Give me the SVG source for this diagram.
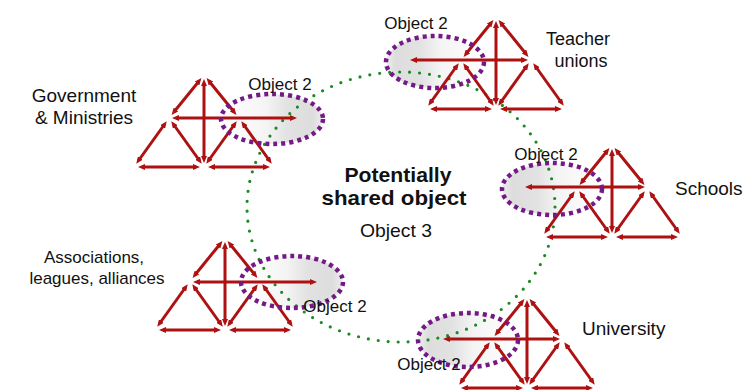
<svg xmlns="http://www.w3.org/2000/svg" xmlns:xlink="http://www.w3.org/1999/xlink" width="746" height="390" viewBox="0 0 746 390">
  <style>
    .lbl { font-family: "Liberation Sans", Arial, sans-serif; fill: #111; }
    .obj { font-family: "Liberation Sans", Arial, sans-serif; fill: #111; font-size: 17px; text-anchor: middle; }
    .edge { stroke: #ad1111; stroke-width: 3; fill: none; marker-start: url(#head); marker-end: url(#head); }
    .ring { stroke: #741a86; stroke-width: 4.5; stroke-dasharray: 4 4; fill: none; }
    .shared { stroke: #1b8a23; stroke-width: 3.2; stroke-dasharray: 0 10; stroke-linecap: round; fill: none; }
  </style>
  <defs>
    <marker id="head" viewBox="0 0 7 6" refX="3" refY="3" markerWidth="7" markerHeight="6" markerUnits="userSpaceOnUse" orient="auto-start-reverse">
      <path d="M0,0 L7,3 L0,6 z" fill="#ad1111"/>
    </marker>
    <linearGradient id="fadeR" x1="0" y1="0" x2="1" y2="0">
      <stop offset="0" stop-color="#ffffff"/>
      <stop offset="0.45" stop-color="#f4f4f4"/>
      <stop offset="0.65" stop-color="#e2e2e2"/>
      <stop offset="0.9" stop-color="#dddddd"/>
      <stop offset="1" stop-color="#eeeeee"/>
    </linearGradient>
    <linearGradient id="fadeL" x1="1" y1="0" x2="0" y2="0">
      <stop offset="0" stop-color="#ffffff"/>
      <stop offset="0.45" stop-color="#f4f4f4"/>
      <stop offset="0.65" stop-color="#e2e2e2"/>
      <stop offset="0.9" stop-color="#dddddd"/>
      <stop offset="1" stop-color="#eeeeee"/>
    </linearGradient>
    <!-- activity system triangle, apex at origin -->
    <g id="tri">
      <line class="edge" x1="-5.1" y1="6.2" x2="-29.9" y2="36.8"/>
      <line class="edge" x1="5.1" y1="6.2" x2="29.9" y2="36.8"/>
      <line class="edge" x1="-39.6" y1="49.5" x2="-65.4" y2="85.5"/>
      <line class="edge" x1="-30.4" y1="49.5" x2="-4.6" y2="85.5"/>
      <line class="edge" x1="30.4" y1="49.5" x2="4.6" y2="85.5"/>
      <line class="edge" x1="39.6" y1="49.5" x2="65.4" y2="85.5"/>
      <line class="edge" x1="-62" y1="92" x2="-8" y2="92"/>
      <line class="edge" x1="8" y1="92" x2="62" y2="92"/>
      <line class="edge" x1="0" y1="8" x2="0" y2="84"/>
    </g>
  </defs>

  <rect width="746" height="390" fill="#ffffff"/>

  <!-- object shadings -->
  <g id="object-fills">
    <ellipse cx="272" cy="119" rx="51" ry="25" fill="url(#fadeR)"/>
    <ellipse cx="435" cy="62" rx="49" ry="26" fill="url(#fadeL)"/>
    <ellipse cx="552" cy="189" rx="50" ry="26" fill="url(#fadeL)"/>
    <ellipse cx="292" cy="282" rx="51" ry="26" fill="url(#fadeR)"/>
    <ellipse cx="468" cy="340" rx="50" ry="27" fill="url(#fadeL)"/>
  </g>

  <!-- potentially shared object -->
  <g id="shared-object">
    <ellipse class="shared" cx="401" cy="207" rx="154" ry="135"/>
    <text class="lbl" x="398" y="182" font-size="21" font-weight="bold" text-anchor="middle" textLength="107" lengthAdjust="spacingAndGlyphs">Potentially</text>
    <text class="lbl" x="394" y="205" font-size="21" font-weight="bold" text-anchor="middle" textLength="145" lengthAdjust="spacingAndGlyphs">shared object</text>
    <text class="lbl" x="396" y="237" font-size="19" text-anchor="middle" textLength="72" lengthAdjust="spacingAndGlyphs">Object 3</text>
  </g>

  <!-- Government & Ministries -->
  <g id="government">
    <use xlink:href="#tri" transform="translate(204,75)"/>
    <line class="edge" x1="176" y1="118" x2="293" y2="118"/>
    <ellipse class="ring" cx="272" cy="119" rx="51" ry="25"/>
    <text class="obj" x="280" y="90">Object 2</text>
    <text class="lbl" x="84" y="102" font-size="19" text-anchor="middle">Government</text>
    <text class="lbl" x="84" y="124" font-size="19" text-anchor="middle">&amp; Ministries</text>
  </g>

  <!-- Teacher unions -->
  <g id="teacher-unions">
    <use xlink:href="#tri" transform="translate(496,17)"/>
    <line class="edge" x1="524" y1="60" x2="414" y2="60"/>
    <ellipse class="ring" cx="435" cy="62" rx="49" ry="26"/>
    <text class="obj" x="416" y="29">Object 2</text>
    <text class="lbl" x="578" y="45" font-size="18" text-anchor="middle">Teacher</text>
    <text class="lbl" x="581" y="67" font-size="18" text-anchor="middle">unions</text>
  </g>

  <!-- Schools -->
  <g id="schools">
    <use xlink:href="#tri" transform="translate(612,145)"/>
    <line class="edge" x1="641" y1="187" x2="529" y2="187"/>
    <ellipse class="ring" cx="552" cy="189" rx="50" ry="26"/>
    <text class="obj" x="546" y="160">Object 2</text>
    <text class="lbl" x="675" y="195" font-size="19">Schools</text>
  </g>

  <!-- Associations, leagues, alliances -->
  <g id="associations">
    <use xlink:href="#tri" transform="translate(225,238)"/>
    <line class="edge" x1="197" y1="282" x2="313" y2="282"/>
    <ellipse class="ring" cx="292" cy="282" rx="51" ry="26"/>
    <text class="obj" x="335" y="312">Object 2</text>
    <text class="lbl" x="94" y="263" font-size="17" text-anchor="middle">Associations,</text>
    <text class="lbl" x="97" y="284" font-size="17" text-anchor="middle">leagues, alliances</text>
  </g>

  <!-- University -->
  <g id="university">
    <use xlink:href="#tri" transform="translate(527,296)"/>
    <line class="edge" x1="556" y1="339" x2="447" y2="339"/>
    <ellipse class="ring" cx="468" cy="340" rx="50" ry="27"/>
    <text class="obj" x="429" y="370">Object 2</text>
    <text class="lbl" x="582" y="335" font-size="19">University</text>
  </g>
</svg>
